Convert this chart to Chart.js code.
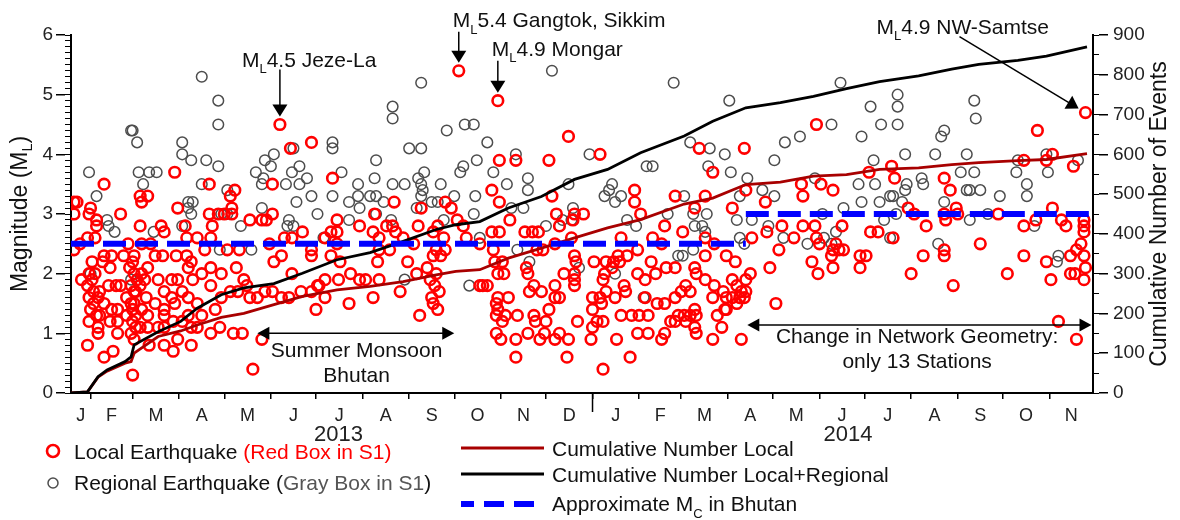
<!DOCTYPE html>
<html>
<head>
<meta charset="utf-8">
<script src="https://cdn.jsdelivr.net/npm/chart.js@4.4.1/dist/chart.umd.min.js"></script>
<style>html,body{margin:0;padding:0;background:#fff}</style>
</head>
<body>
<canvas id="grafico" width="1180" height="520"></canvas>
<script>
// dias contados a partir de 1 jan 2013
const inicioMeses = [0,31,59,90,120,151,181,212,243,273,304,334,365,396,424,455,485,516,546,577,608,638,669,699]
const letrasMeses = ['J','F','M','A','M','J','J','A','S','O','N','D','J','F','M','A','M','J','J','A','S','O','N']
const anos = ['2013','2014']
const centroAnos = [196, 535]
const diaMin = 18, diaMax = 698

// terremotos locais [dia, magnitude]
const locais = [
[20,3.2],[22,3.2],[20,3.0],[20,2.4],[24,2.5],[25,1.9],[29,2.6],[29,1.8],[29,0.8],[30,3.0],[30,2.0],[30,1.6],[30,1.2],[31,3.1],[31,1.4],[32,2.2],[32,1.9],[33,1.7],[33,1.5],[34,2.6],[34,2.0],[35,2.9],[35,2.8],[35,1.3],[36,1.6],[36,1.1],[36,1.0],[37,1.7],[37,1.3],[39,2.2],[40,3.5],[40,2.3],[40,1.5],[40,0.6],[43,1.8],[44,2.1],[44,1.2],[45,2.3],[45,1.4],[46,0.7],[48,1.8],[49,1.4],[49,1.2],[49,1.0],[51,3.0],[51,1.8],[53,2.3],[55,1.6],[55,1.3],[56,2.5],[57,2.1],[58,1.8],[58,1.5],[58,1.0],[59,2.2],[59,1.4],[59,1.2],[59,0.3],[60,2.3],[60,2.0],[60,1.7],[60,1.5],[60,0.9],[61,1.7],[61,1.3],[61,1.1],[62,1.9],[64,3.3],[64,2.8],[64,1.8],[64,1.1],[65,3.2],[65,2.5],[65,2.0],[65,1.4],[67,1.9],[68,1.6],[69,3.3],[69,2.1],[69,1.3],[69,1.1],[70,0.8],[71,2.5],[74,2.3],[74,1.5],[76,1.9],[76,1.1],[78,2.8],[79,2.3],[80,2.7],[80,1.7],[80,1.4],[80,1.3],[80,1.1],[80,0.8],[85,1.9],[85,1.6],[86,1.2],[86,0.7],[87,3.7],[87,1.5],[88,2.3],[89,3.1],[89,1.9],[89,0.9],[92,1.7],[92,1.2],[94,2.8],[95,2.6],[95,2.3],[96,2.1],[96,1.6],[96,1.3],[98,2.2],[98,1.1],[98,0.8],[99,1.9],[102,2.6],[102,1.5],[102,1.1],[105,2.0],[105,1.3],[107,2.4],[110,3.5],[110,3.0],[111,2.6],[111,2.1],[111,1.8],[111,1.0],[112,2.8],[114,1.4],[116,3.0],[117,1.1],[118,2.0],[118,1.6],[120,3.0],[122,2.4],[124,3.3],[124,1.7],[125,3.1],[125,3.0],[126,1.0],[127,3.4],[128,2.1],[129,1.7],[130,2.4],[132,1.0],[133,1.9],[135,1.8],[137,2.9],[137,1.6],[139,0.4],[142,1.6],[145,2.9],[145,0.9],[147,1.7],[148,2.9],
[150,2.5],[152,3.5],[152,3.0],[152,1.7],[153,2.2],[157,4.5],[158,2.3],[158,1.6],[160,2.6],[163,1.6],[164,4.1],[165,2.6],[165,2.0],[171,1.7],[172,2.7],[178,4.2],[178,2.4],[178,2.3],[178,1.7],[181,1.4],[182,1.8],[183,1.8],[187,2.6],[187,1.9],[187,1.6],[191,2.7],[191,2.3],[192,3.6],[195,2.9],[195,2.7],[195,2.5],[196,1.9],[197,2.2],[203,1.5],[204,2.0],[210,2.8],[210,1.9],[214,1.9],[219,2.7],[219,1.6],[220,3.0],[222,2.2],[223,2.6],[223,2.4],[223,1.9],[228,2.8],[230,2.4],[232,2.8],[233,3.2],[234,2.7],[237,1.7],[239,2.6],[242,2.2],[246,2.5],[248,2.0],[249,2.8],[250,1.3],[251,3.1],[255,2.1],[257,1.9],[258,1.6],[259,2.7],[259,2.3],[259,1.5],[260,1.8],[261,2.4],[261,2.0],[262,2.8],[262,1.4],[263,1.7],[264,2.3],[266,2.6],[267,3.2],[267,2.4],[271,3.1],[275,2.9],[276,5.4],[279,2.8],[281,2.6],[290,1.8],
[290,2.5],[292,1.8],[295,1.8],[298,3.4],[298,2.7],[299,2.4],[300,2.2],[301,1.5],[301,1.3],[301,1.0],[302,4.9],[302,2.0],[302,1.6],[302,1.4],[303,3.9],[303,3.2],[303,2.7],[304,0.9],[305,2.2],[305,1.2],[306,2.0],[307,1.3],[309,1.6],[310,2.9],[314,3.9],[314,0.9],[314,0.6],[315,1.3],[320,2.7],[321,2.1],[322,2.0],[322,1.0],[323,1.7],[325,2.7],[326,1.8],[326,1.3],[327,1.2],[328,2.4],[329,2.7],[330,0.9],[331,1.7],[332,2.4],[333,1.0],[334,1.2],[336,3.9],[336,1.4],[338,3.3],[340,2.5],[340,1.8],[340,1.6],[340,0.9],[341,3.0],[343,2.8],[343,1.6],[343,1.0],[346,2.0],[348,0.6],[349,4.3],[349,0.9],[351,2.6],[352,2.9],[353,3.0],[353,2.3],[353,2.0],[353,1.9],[353,1.8],[354,2.2],[355,1.2],[359,3.0],[364,0.9],[365,1.6],[365,1.4],[365,1.1],[366,2.2],[368,1.2],[370,4.0],[370,1.6],[371,1.5],[372,1.9],[372,1.2],[372,0.4],[373,2.0],[374,2.2],[374,1.7],[378,2.1],[379,2.2],[380,1.6],[381,0.9],[382,2.3],[383,2.2],[384,2.6],[384,1.3],[386,1.8],[387,1.7],[388,2.3],[390,0.6],[391,1.3],[393,3.4],[393,3.2],[395,2.4],[395,2.0],[395,1.0],[396,1.3],[397,3.0],[400,1.9],[400,1.6],[402,1.3],[402,1.0],[404,2.2],[405,2.6],[407,2.0],[408,1.5],[411,2.5],[411,0.9],[413,2.8],[413,1.5],[413,1.0],[414,2.1],[417,1.2],[420,3.3],[420,2.1],[420,1.6],[420,1.2],[422,1.3],[424,1.7],
[425,2.7],[426,1.3],[427,1.8],[427,1.2],[430,1.7],[430,1.3],[433,3.1],[433,2.1],[433,1.4],[433,1.1],[434,2.0],[434,1.3],[434,1.0],[436,4.1],[440,3.3],[440,2.6],[440,2.3],[440,1.9],[445,3.7],[445,1.6],[445,0.9],[446,2.5],[446,1.8],[448,1.3],[451,1.1],[452,1.7],[453,1.4],[454,2.3],[454,1.6],[454,1.4],[458,3.1],[458,1.9],[458,1.6],[460,2.2],[461,1.8],[461,1.5],[463,1.6],[464,1.7],[464,0.9],[466,4.1],[466,1.6],[467,3.4],[467,1.9],[467,1.7],[470,2.0],[471,2.6],[480,3.2],[481,2.7],[483,2.1],[487,1.5],[489,2.4],[491,2.8],[499,2.6],[504,3.5],[505,3.3],[505,2.8],[511,2.2],[513,2.8],[514,4.5],[514,2.6],[515,2.0],[516,2.5],[517,3.5],[524,2.3],[525,3.4],[525,2.4],[525,2.1],[527,2.5],[529,2.4],[531,2.8],[532,2.4],[543,2.3],[543,2.1],[547,2.3],[549,3.7],[550,2.7],[555,2.7],
[564,3.8],[565,2.6],[566,3.6],[575,3.1],[577,2.0],[579,3.0],[585,2.3],[587,2.8],[599,3.6],[599,3.0],[599,2.4],[599,2.3],[600,2.9],[603,3.4],[605,1.8],[607,3.1],[608,3.0],[623,2.5],[635,3.0],[641,2.0],[652,3.9],[652,2.8],[652,2.3],[660,2.9],[661,4.4],[667,3.9],[667,2.2],[670,1.9],[671,4.0],[671,3.1],[675,1.2],[677,2.9],[680,2.8],[683,2.3],[683,2.0],[685,3.8],[686,2.0],[687,2.4],[687,0.9],[690,2.5],[692,2.9],[692,2.8],[692,2.7],[692,2.3],[692,1.9],[693,4.7],[693,2.1]
]

// terremotos regionais [dia, magnitude]
const regionais = [
[30,3.7],[31,2.0],[35,3.3],[42,2.9],[43,2.8],[47,2.7],[58,4.4],[59,4.4],[58,1.9],[62,4.2],[63,3.7],[66,3.5],[70,3.7],[73,2.7],[75,3.7],[92,4.2],[92,4.0],[92,2.8],[96,3.2],[96,3.1],[98,3.9],[98,3.0],[99,3.2],[105,5.3],[105,3.5],[108,3.9],[116,4.9],[116,4.5],[116,3.8],[117,2.4],[118,3.0],[122,3.0],[122,3.4],[131,2.8],[138,2.4],[141,3.7],[145,3.5],[145,3.1],[146,3.6],[147,3.9],
[151,3.8],[153,4.0],[161,3.5],[162,2.8],[163,2.9],[165,3.7],[166,4.1],[166,2.8],[168,3.2],[170,3.8],[170,3.5],[175,3.6],[178,3.3],[182,3.0],[186,2.6],[192,4.2],[192,4.1],[192,3.3],[198,3.7],[203,3.2],[203,2.9],[209,3.5],[209,3.3],[210,3.1],[217,3.3],[220,3.6],[221,3.9],[221,3.3],[221,3.0],[226,3.2],[231,2.9],[232,4.8],[232,4.6],[232,3.5],[240,3.5],[240,1.9],[243,4.1],[248,3.1],[249,3.6],[251,5.2],[251,4.1],[251,3.5],[251,3.3],[252,3.4],[253,3.7],[258,3.2],[262,3.2],[264,3.5],[266,2.9],[268,4.4],[273,3.3],[277,3.7],[279,3.8],[279,2.8],[280,4.5],[283,1.8],[286,4.5],[286,3.0],[287,3.3],[288,3.9],
[290,2.6],[295,4.2],[299,3.7],[308,3.5],[311,3.1],[314,4.0],[315,2.4],[319,3.1],[322,3.6],[322,3.4],[323,2.2],[334,2.8],[338,5.4],[343,2.8],[345,2.9],[349,3.5],[351,2.9],[352,3.1],[356,2.1],[363,4.0],[373,3.3],[376,3.4],[378,3.5],[380,3.2],[380,2.0],[384,3.3],[388,2.9],[394,2.8],[399,1.6],[401,3.8],[405,3.8],[413,2.8],[415,3.0],[419,5.2],[422,2.3],[426,3.3],
[425,2.3],[430,4.2],[432,3.0],[432,2.4],[433,2.8],[438,2.8],[440,2.7],[441,3.0],[442,3.8],[443,4.1],[453,4.0],[456,4.9],[457,3.7],[461,2.9],[463,3.3],[463,2.6],[466,2.5],[468,3.6],[471,2.9],[478,3.4],[482,2.8],[486,3.9],[486,3.3],[492,2.6],[493,4.2],[503,4.3],[508,2.5],[513,3.6],[518,3.0],[519,2.6],[524,4.5],[524,2.5],[527,2.7],[530,5.2],[531,2.8],[532,3.1],[542,3.5],[544,4.3],[544,3.2],[550,4.8],[552,3.9],[553,3.5],[556,3.2],[557,4.5],
[559,2.9],[563,3.3],[563,2.6],[565,3.3],[567,3.0],[568,5.0],[568,4.8],[568,4.5],[571,3.2],[573,4.0],[573,3.4],[574,3.5],[584,3.6],[585,3.5],[593,4.0],[595,2.5],[597,4.3],[599,4.4],[599,3.2],[610,3.7],[614,4.0],[614,3.4],[616,3.4],[616,2.9],[619,4.9],[619,3.7],[620,4.6],[623,3.4],[628,3.0],[636,3.3],[647,3.7],[648,3.9],[654,3.5],[654,3.3],[659,2.8],[667,4.0],[668,3.7],[674,2.2],[675,2.3],[688,3.9]
]

// numero acumulado de eventos
const diasAcum = [18,29,36,42,54,58,60,76,91,102,118,133,153,172,195,217,239,261,274,290,309,331,353,375,397,426,445,467,490,512,534,556,582,604,622,648,667,694]
const acumLocal = [0,3,40,55,75,79,100,142,156,171,190,200,222,243,259,268,280,297,306,310,339,364,390,415,436,475,490,524,530,545,549,562,566,574,579,584,587,602]
const acumTotal = [0,3,41,58,79,91,121,154,180,213,247,264,275,301,335,353,381,411,423,431,465,494,537,562,604,646,683,717,730,746,765,783,797,814,826,836,847,870]

// magnitude de completude aproximada (Mc) por periodo
const mcInicio = [18, 467]
const mcFim = [467, 698]
const mcValor = [2.5, 3.0]

const inicio2014 = 365

// eventos marcados com seta
const setas = [
  {dia: 157, mag: 4.5, texto: '4.5 Jeze-La', tx: -38, ty: -58, sx: 0, sy: -55},
  {dia: 276, mag: 5.4, texto: '5.4 Gangtok, Sikkim', tx: -6, ty: -44, sx: 0, sy: -39},
  {dia: 302, mag: 4.9, texto: '4.9 Mongar', tx: -6, ty: -45, sx: 0, sy: -40},
  {dia: 693, mag: 4.7, texto: '4.9 NW-Samtse', tx: -209, ty: -79, sx: -126, sy: -76}
]
// periodos com seta dupla
const periodos = [
  {de: 142, ate: 273, mag: 1.0, linhas: ['Summer Monsoon', 'Bhutan'], dia: 208, mags: [0.6, 0.18]},
  {de: 468, ate: 697, mag: 1.14, linhas: ['Change in Network Geometry:', 'only 13 Stations'], dia: 581, mags: [0.84, 0.42]}
]

const FAMILIA = '"Liberation Sans", Arial, Helvetica, sans-serif'
function fonte(tam) { return tam + 'px ' + FAMILIA }

//escreve texto com partes coloridas e subscritos
function escreveRico(ctx, partes, x, y, tam, centro) {
  let larg = 0
  for (const p of partes) {
    ctx.font = fonte(p.sub ? tam * 0.62 : tam)
    larg += ctx.measureText(p.t).width
  }
  let cx = centro ? x - larg / 2 : x
  for (const p of partes) {
    ctx.font = fonte(p.sub ? tam * 0.62 : tam)
    ctx.fillStyle = p.cor || '#111'
    ctx.fillText(p.t, cx, p.sub ? y + tam * 0.32 : y)
    cx += ctx.measureText(p.t).width
  }
}

function ponta(ctx, x, y, ang, comp, meia) {//triangulo com a ponta em (x,y)
  const c = Math.cos(ang), s = Math.sin(ang)
  ctx.beginPath()
  ctx.moveTo(x, y)
  ctx.lineTo(x - comp * c + meia * s, y - comp * s - meia * c)
  ctx.lineTo(x - comp * c - meia * s, y - comp * s + meia * c)
  ctx.closePath()
  ctx.fill()
}

const pluginAnotacoes = {
  id: 'anotacoes',
  afterDatasetsDraw(chart) {
    const ctx = chart.ctx
    const x = chart.scales.x, y = chart.scales.y
    ctx.save()
    ctx.textAlign = 'left'
    ctx.textBaseline = 'alphabetic'
    ctx.fillStyle = '#000'
    ctx.strokeStyle = '#000'
    for (const s of setas) {
      const px = x.getPixelForValue(s.dia), py = y.getPixelForValue(s.mag)
      const ox = px + s.sx, oy = py + s.sy
      const ang = Math.atan2(py - oy, px - ox)
      const tx = px - 8 * Math.cos(ang), ty = py - 8 * Math.sin(ang)
      ctx.lineWidth = 1.5
      ctx.beginPath()
      ctx.moveTo(ox, oy)
      ctx.lineTo(tx - 10 * Math.cos(ang), ty - 10 * Math.sin(ang))
      ctx.stroke()
      ctx.fillStyle = '#000'
      ponta(ctx, tx, ty, ang, 12, 7.5)
      escreveRico(ctx, [{t: 'M'}, {t: 'L', sub: true}, {t: s.texto}], px + s.tx, py + s.ty, 21, false)
    }
    for (const p of periodos) {
      const x1 = x.getPixelForValue(p.de), x2 = x.getPixelForValue(p.ate), yy = y.getPixelForValue(p.mag)
      ctx.lineWidth = 1.5
      ctx.beginPath()
      ctx.moveTo(x1 + 10, yy)
      ctx.lineTo(x2 - 10, yy)
      ctx.stroke()
      ctx.fillStyle = '#000'
      ponta(ctx, x2, yy, 0, 12, 6.5)
      ponta(ctx, x1, yy, Math.PI, 12, 6.5)
      p.linhas.forEach((l, i) => {
        escreveRico(ctx, [{t: l}], x.getPixelForValue(p.dia), y.getPixelForValue(p.mags[i]), 21, true)
      })
    }
    ctx.restore()
  }
}

const pluginMoldura = {
  id: 'moldura',
  afterDraw(chart) {
    const ctx = chart.ctx
    const area = chart.chartArea
    ctx.save()
    // tick longo na virada do ano
    const xa = chart.scales.x.getPixelForValue(inicio2014)
    ctx.strokeStyle = '#000'
    ctx.lineWidth = 1.5
    ctx.beginPath()
    ctx.moveTo(xa, area.bottom)
    ctx.lineTo(xa, area.bottom + 19)
    ctx.stroke()
    // titulos dos eixos
    ctx.textBaseline = 'middle'
    ctx.textAlign = 'left'
    const meio = (area.top + area.bottom) / 2
    ctx.translate(21, meio)
    ctx.rotate(-Math.PI / 2)
    escreveRico(ctx, [{t: 'Magnitude (M'}, {t: 'L', sub: true}, {t: ')'}], 0, 0, 23, true)
    ctx.setTransform(1, 0, 0, 1, 0, 0)
    ctx.translate(1160, meio)
    ctx.rotate(-Math.PI / 2)
    escreveRico(ctx, [{t: 'Cumulative Number of Events'}], 0, 0, 23, true)
    ctx.setTransform(1, 0, 0, 1, 0, 0)
    // legenda
    const ds = chart.data.datasets
    ctx.textBaseline = 'alphabetic'
    ctx.lineWidth = ds[1].pointBorderWidth
    ctx.strokeStyle = ds[1].pointBorderColor
    ctx.beginPath(); ctx.arc(53, 451, 6, 0, Math.PI * 2); ctx.stroke()
    escreveRico(ctx, [{t: 'Local Earthquake '}, {t: '(Red Box in S1)', cor: '#ff0000'}], 74, 459, 21, false)
    ctx.lineWidth = ds[0].pointBorderWidth
    ctx.strokeStyle = ds[0].pointBorderColor
    ctx.beginPath(); ctx.arc(53, 483, 5, 0, Math.PI * 2); ctx.stroke()
    escreveRico(ctx, [{t: 'Regional Earthquake ('}, {t: 'Gray Box in S1', cor: '#555'}, {t: ')'}], 74, 490, 21, false)
    const linhas = [[ds[2], 448, 'Cumulative Number Local'], [ds[3], 474, 'Cumulative Number Local+Regional']]
    for (const [d, ly, txt] of linhas) {
      ctx.strokeStyle = d.borderColor
      ctx.lineWidth = 3
      ctx.beginPath(); ctx.moveTo(461, ly); ctx.lineTo(544, ly); ctx.stroke()
      escreveRico(ctx, [{t: txt}], 552, ly + 8, 21, false)
    }
    ctx.strokeStyle = ds[4].borderColor
    ctx.lineWidth = 6
    ctx.setLineDash([20, 10])
    ctx.lineDashOffset = 7
    ctx.beginPath(); ctx.moveTo(461, 504); ctx.lineTo(537, 504); ctx.stroke()
    ctx.setLineDash([])
    escreveRico(ctx, [{t: 'Approximate M'}, {t: 'C', sub: true}, {t: ' in Bhutan'}], 552, 511, 21, false)
    ctx.restore()
  }
}

// pontos de meio de mes para os rotulos
const meioMeses = letrasMeses.map((l, i) => (Math.max(inicioMeses[i], diaMin) + Math.min(inicioMeses[i + 1], diaMax)) / 2)

let mcDados = []
mcInicio.forEach((d, i) => {
  if (i > 0) mcDados.push({x: d, y: null})
  mcDados.push({x: d, y: mcValor[i]}, {x: mcFim[i], y: mcValor[i]})
})

Chart.defaults.font.family = FAMILIA
Chart.defaults.color = '#222'

function tickMarcas(tamanho, largura) {
  return {display: true, drawOnChartArea: false, drawTicks: true, tickLength: tamanho, tickWidth: largura, lineWidth: largura, color: '#000', tickColor: '#000'}
}

new Chart(document.getElementById('grafico'), {
  type: 'scatter',
  data: {
    datasets: [
      {label: 'Regional', data: regionais.map(e => ({x: e[0], y: e[1]})), xAxisID: 'x', yAxisID: 'y',
        pointStyle: 'circle', pointRadius: 5.3, pointBorderWidth: 1.5, pointBorderColor: '#4d4d4d', pointBackgroundColor: 'rgba(0,0,0,0)', order: 4},
      {label: 'Local', data: locais.map(e => ({x: e[0], y: e[1]})), xAxisID: 'x', yAxisID: 'y',
        pointStyle: 'circle', pointRadius: 5.3, pointBorderWidth: 2.6, pointBorderColor: '#ff0000', pointBackgroundColor: 'rgba(0,0,0,0)', order: 3},
      {label: 'Cumulative Number Local', data: diasAcum.map((d, i) => ({x: d, y: acumLocal[i]})), xAxisID: 'x', yAxisID: 'yCum',
        showLine: true, borderColor: '#a80000', borderWidth: 2.8, pointRadius: 0, tension: 0, order: 2},
      {label: 'Cumulative Number Local+Regional', data: diasAcum.map((d, i) => ({x: d, y: acumTotal[i]})), xAxisID: 'x', yAxisID: 'yCum',
        showLine: true, borderColor: '#000000', borderWidth: 2.8, pointRadius: 0, tension: 0, order: 1},
      {label: 'Mc', data: mcDados, xAxisID: 'x', yAxisID: 'y', showLine: true, spanGaps: false,
        borderColor: '#0000ff', borderWidth: 6, borderDash: [23, 9], pointRadius: 0, order: 0}
    ]
  },
  options: {
    responsive: false,
    animation: false,
    events: [],
    layout: {padding: {top: 35, left: 0, right: 0, bottom: 0}},
    plugins: {legend: {display: false}, tooltip: {enabled: false}},
    scales: {
      x: {type: 'linear', axis: 'x', position: 'bottom', weight: 0, min: diaMin, max: diaMax,
        afterBuildTicks: s => { s.ticks = inicioMeses.filter(d => d > diaMin && d < diaMax).map(v => ({value: v})) },
        ticks: {display: false}, grid: tickMarcas(6, 1.5), border: {display: true, color: '#000', width: 2},
        afterFit: s => { s.height = 6 }},
      // mirror: rotulos sem recorte na caixa do eixo
      xMes: {type: 'linear', axis: 'x', position: 'bottom', weight: 1, min: diaMin, max: diaMax,
        afterBuildTicks: s => { s.ticks = meioMeses.map(v => ({value: v})) },
        ticks: {autoSkip: false, maxRotation: 0, mirror: true, padding: -28, font: {size: 18}, callback: (v, i) => letrasMeses[i]},
        grid: {display: false}, border: {display: false},
        afterFit: s => { s.height = 16 }},
      xAno: {type: 'linear', axis: 'x', position: 'bottom', weight: 2, min: diaMin, max: diaMax,
        afterBuildTicks: s => { s.ticks = centroAnos.map(v => ({value: v})) },
        ticks: {autoSkip: false, maxRotation: 0, mirror: true, padding: -33, font: {size: 22}, callback: (v, i) => anos[i]},
        grid: {display: false}, border: {display: false},
        afterFit: s => { s.height = 105 }},
      yMenor: {type: 'linear', axis: 'y', position: 'left', weight: 0, min: 0, max: 6,
        afterBuildTicks: s => { s.ticks = Array.from({length: 61}, (_, i) => ({value: i / 10})) },
        ticks: {display: false}, grid: tickMarcas(6, 1), border: {display: true, color: '#000', width: 2},
        afterFit: s => { s.width = 6 }},
      y: {type: 'linear', axis: 'y', position: 'left', weight: 1, min: 0, max: 6,
        afterBuildTicks: s => { s.ticks = [0, 1, 2, 3, 4, 5, 6].map(v => ({value: v})) },
        ticks: {autoSkip: false, padding: 3, font: {size: 19}},
        grid: tickMarcas(9, 1.5), border: {display: false},
        afterFit: s => { s.width = 65 }},
      yCumMenor: {type: 'linear', axis: 'y', position: 'right', weight: 0, min: 0, max: 900,
        afterBuildTicks: s => { s.ticks = Array.from({length: 19}, (_, i) => ({value: i * 50})) },
        ticks: {display: false}, grid: tickMarcas(6, 1), border: {display: true, color: '#000', width: 2},
        afterFit: s => { s.width = 6 }},
      yCum: {type: 'linear', axis: 'y', position: 'right', weight: 1, min: 0, max: 900,
        afterBuildTicks: s => { s.ticks = Array.from({length: 10}, (_, i) => ({value: i * 100})) },
        ticks: {autoSkip: false, padding: 5, font: {size: 19}},
        grid: tickMarcas(9, 1.5), border: {display: false},
        afterFit: s => { s.width = 81 }}
    }
  },
  plugins: [pluginAnotacoes, pluginMoldura]
})
</script>
</body>
</html>
